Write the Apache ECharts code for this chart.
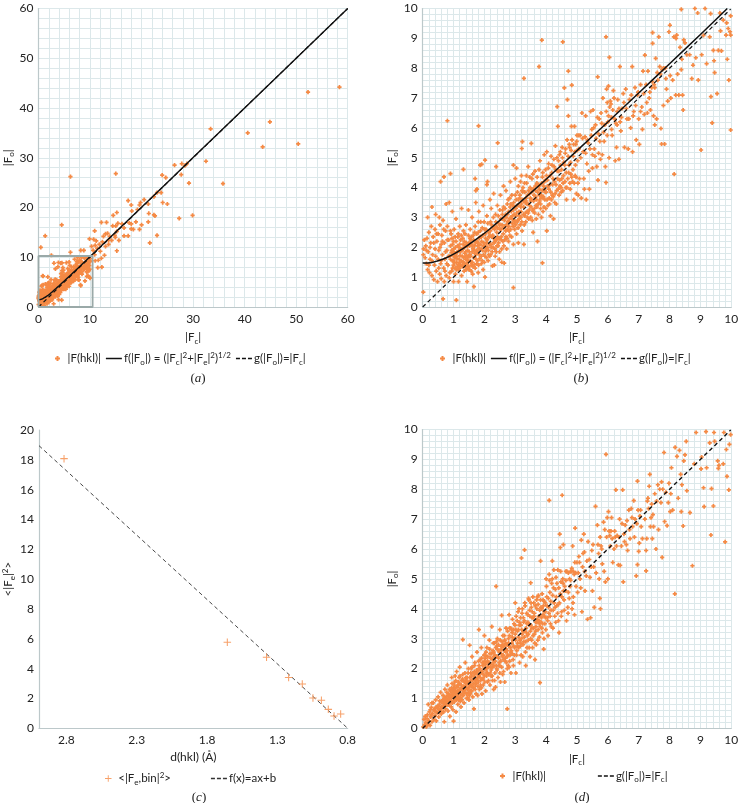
<!DOCTYPE html>
<html><head><meta charset="utf-8">
<style>html,body{margin:0;padding:0;background:#fff}#c{width:742px;height:803px}</style>
<script src="https://cdn.jsdelivr.net/npm/echarts@6/dist/echarts.min.js"></script>
</head><body><div id="c"></div>
<script>
// Points; panel (a) shows the same reflections on a wider scale.
const bLow = [0.02,1.75,0.03,1.95,0.02,0.5,0.05,2.25,0.08,1.65,0.1,2.05,0.12,1.45,0.14,2.3,0.16,1.25,0.18,1.85,0.16,3.0,0.2,2.5,0.22,1.15,0.24,1.6,0.26,2.15,0.28,2.7,0.3,3.35,0.3,1.05,0.32,1.75,0.34,2.35,0.36,0.92,0.38,1.4,0.4,1.95,0.4,2.6,0.42,3.1,0.44,1.2,0.46,2.2,0.48,0.85,0.5,1.6,0.5,2.45,0.52,1.9,0.54,3.0,0.55,1.1,0.56,2.75,0.58,1.45,0.6,2.1,0.6,0.95,0.62,2.4,0.64,1.75,0.66,2.9,0.68,1.3,0.7,2.15,0.7,0.85,0.72,1.6,0.74,2.55,0.76,3.45,0.76,1.05,0.78,1.9,0.8,2.7,0.82,1.4,0.84,2.25,0.86,3.5,0.86,0.98,0.88,1.7,0.9,2.05,0.92,2.45,0.94,1.2,0.96,3.2,0.96,1.55,0.98,1.85,0.66,0.27,0.58,4.2,0.69,4.36,0.9,4.47,0.8,6.24,
1.0,0.85,1.0,1.4,1.0,2.2,1.02,2.6,1.04,1.65,1.06,1.1,1.06,2.0,1.09,0.23,1.08,2.95,1.1,1.5,1.12,1.85,1.14,2.35,1.16,0.85,1.16,1.25,1.18,1.6,1.2,2.1,1.2,2.7,1.22,1.4,1.24,1.95,1.26,3.3,1.26,1.05,1.28,1.7,1.3,2.3,1.3,1.5,1.32,2.55,1.32,4.61,1.34,1.2,1.36,2.0,1.36,1.8,1.38,1.35,1.4,1.6,1.4,2.75,1.42,2.15,1.44,0.85,1.44,1.45,1.46,1.9,1.48,2.4,1.48,3.25,1.5,1.25,1.5,1.7,1.52,2.05,1.54,1.55,1.54,2.6,1.56,2.25,1.58,1.4,1.6,1.85,1.6,3.0,1.62,1.1,1.64,2.4,1.66,1.65,1.66,0.68,1.68,2.05,1.7,1.3,1.7,2.7,1.72,3.5,1.74,1.9,1.76,2.2,1.76,3.95,1.78,1.55,1.8,2.5,1.8,1.15,1.82,3.2,1.84,1.75,1.86,2.1,1.86,4.75,1.88,2.85,1.9,1.45,1.9,2.35,1.91,4.78,1.94,1.9,1.96,3.4,1.96,1.25,1.98,2.15,2.0,2.6,2.02,4.92,2.02,1.0,2.02,1.7,1.81,6.07,1.7,4.3,1.72,3.9],
bMid1 = [2.04,2.3,2.06,1.95,2.08,3.05,2.08,4.1,2.1,4.2,2.12,1.55,2.14,2.5,2.16,2.1,2.18,3.6,2.2,1.75,2.2,2.85,2.22,3.3,2.24,2.35,2.26,1.38,2.28,2.0,2.3,2.65,2.3,3.8,2.32,1.4,2.34,2.2,2.36,3.1,2.38,4.7,2.38,1.85,2.4,2.5,2.43,5.5,2.42,3.4,2.44,2.05,2.46,2.8,2.48,1.6,2.5,2.3,2.5,3.25,2.52,3.75,2.54,2.6,2.56,1.95,2.56,1.5,2.58,2.95,2.6,2.2,2.62,3.35,2.62,4.05,2.64,1.47,2.66,2.7,2.68,3.1,2.7,2.35,2.7,3.9,2.72,1.95,2.74,3.45,2.76,2.85,2.78,2.2,2.78,3.2,2.8,2.55,2.82,3.65,2.84,4.2,2.86,3.0,2.88,2.35,2.9,2.8,2.92,3.4,2.94,0.65,2.94,4.75,2.94,2.1,2.96,3.1,2.98,2.6,3.0,3.75,3.0,4.3,3.04,4.65,3.02,3.05,3.04,2.45,3.06,3.4,3.08,2.9,3.1,2.15,3.1,4.05,3.12,3.2,3.14,3.65,3.16,2.75,3.18,3.0,3.2,4.4,3.2,3.45,3.22,2.55,3.21,5.31,3.23,5.54,3.24,3.85,3.26,3.1,3.28,2.1,3.28,7.66,3.3,4.15,3.32,3.5,3.34,2.85,3.36,4.4,3.38,3.2,3.4,3.75,3.42,4.7,3.44,2.95,3.46,3.4,3.48,4.0,3.52,5.48,3.5,3.0,3.52,3.6,3.54,4.3,3.56,3.25,3.58,2.5,3.6,3.95,3.62,3.3,3.64,4.55,3.66,3.7,3.68,2.95,3.7,4.15,3.72,2.2,3.74,3.45,3.77,8.05,3.78,3.95,3.8,4.9,3.82,3.3,3.84,3.75,3.86,8.94,3.88,1.48,3.88,4.35,3.9,3.2,3.92,4.05,3.94,5.1,3.96,3.6,3.98,4.6],
bMid2 = [4.0,3.85,4.02,2.55,4.02,5.2,4.04,4.25,4.06,3.4,4.08,4.8,4.1,3.65,4.12,4.1,4.14,3.05,4.16,5.05,4.18,4.5,4.2,3.75,4.22,4.3,4.24,2.95,4.26,4.7,4.28,3.5,4.3,5.4,4.32,4.1,4.36,6.71,4.34,3.9,4.36,4.55,4.38,6.05,4.4,4.9,4.42,3.75,4.44,4.25,4.46,5.2,4.48,4.0,4.5,4.6,4.52,5.35,4.54,8.88,4.54,3.9,4.56,4.4,4.59,7.34,4.6,4.75,4.62,5.15,4.64,4.0,4.66,3.6,4.69,6.95,4.68,5.6,4.7,4.3,4.72,7.9,4.72,6.4,4.74,4.75,4.76,5.35,4.78,3.95,4.8,4.45,4.83,7.43,4.82,6.05,4.84,5.6,4.86,4.2,4.88,5.05,4.9,3.6,4.92,6.05,4.94,4.4,4.96,5.45,4.98,3.8,5.0,5.75,5.02,4.9,5.04,3.75,5.06,5.3,5.08,4.3,5.1,5.75,5.12,5.0,5.14,3.65,5.16,6.5,5.18,5.65,5.2,5.2,5.22,4.3,5.24,3.95,5.26,5.7,5.28,6.4,5.3,3.6,5.32,4.8,5.36,5.5,5.4,3.95,5.44,6.55,5.48,5.95,5.5,5.1,5.52,6.6,5.56,5.3,5.6,6.1,5.64,4.7,5.67,7.71,5.68,4.25,5.7,5.8,5.72,6.3,5.76,4.95,5.8,6.15,5.84,7.0,5.88,5.55,5.92,4.7,5.94,9.05,5.94,4.17,5.96,7.3,5.98,6.85,6.0,6.2,6.02,7.4,6.04,5.0,6.05,8.36,6.06,6.7,6.1,6.8,6.12,6.35,6.14,5.75,6.18,7.25,6.2,7.0,6.24,4.9,6.26,6.15,6.28,5.35,6.3,6.55,6.32,6.95,6.36,4.95,6.39,8.05],
bHigh = [6.4,6.2,6.42,5.9,6.46,6.65,6.5,7.15,6.54,5.35,6.58,7.3,6.62,6.3,6.66,5.3,6.7,6.95,6.74,6.0,6.79,8.05,6.8,5.2,6.84,6.55,6.88,7.35,6.92,5.6,6.96,7.1,7.0,6.3,7.02,5.45,7.06,7.45,7.1,6.7,7.12,5.95,7.14,7.9,7.18,6.45,7.2,8.44,7.24,7.45,7.28,6.5,7.3,7.9,7.34,7.0,7.38,6.6,7.42,7.35,7.45,9.19,7.45,8.83,7.48,6.4,7.5,7.45,7.52,6.1,7.55,8.33,7.58,6.3,7.62,7.6,7.65,9.05,7.68,8.05,7.72,5.98,7.74,5.46,7.76,7.95,7.8,6.75,7.84,5.46,7.86,8.0,7.9,7.3,7.94,6.9,7.98,9.22,8.01,9.44,8.02,7.75,8.04,7.0,8.1,7.6,8.14,9.05,8.15,4.45,8.2,7.1,8.21,9.0,8.23,9.11,8.26,7.8,8.3,7.1,8.34,8.7,8.38,9.97,8.38,7.95,8.4,8.3,8.42,7.1,8.44,6.6,8.46,8.95,8.5,8.85,8.56,8.45,8.65,8.45,8.72,7.65,8.76,8.1,8.82,10.0,8.85,8.35,8.91,9.85,8.93,7.6,9.02,5.26,9.04,8.45,9.1,9.1,9.15,10.0,9.2,8.15,9.3,9.05,9.33,9.83,9.34,7.05,9.38,6.17,9.42,8.6,9.44,8.25,9.46,7.85,9.54,7.15,9.58,8.6,9.63,9.85,9.65,9.25,9.68,8.58,9.74,9.61,9.83,9.11,9.85,9.52,9.87,8.3,9.9,9.33,9.92,7.6,9.96,9.22,9.98,9.11,9.98,9.75,9.98,5.93];
const bDense1 = [0.9,1.6,0.93,1.82,0.95,2.3,0.97,1.3,0.99,1.72,1.01,1.95,1.03,1.48,1.05,2.35,1.07,1.78,1.09,1.25,1.11,1.62,1.13,2.05,1.15,1.42,1.17,1.88,1.19,1.3,1.21,1.72,1.23,2.25,1.25,1.55,1.27,1.9,1.29,1.35,1.31,2.1,1.33,1.65,1.35,1.45,1.37,2.45,1.39,1.85,1.41,1.25,1.43,1.72,1.45,2.05,1.47,1.55,1.49,1.35,1.51,1.85,1.53,2.3,1.55,1.7,1.57,1.2,1.59,2.1,1.61,1.5,1.63,1.95,1.65,2.25,1.67,1.42,1.69,1.8,1.71,2.15,1.73,1.6,1.75,2.45,1.77,1.85,1.79,2.05,1.81,1.4,1.83,2.3,1.85,1.62,1.87,2.55,1.89,1.95,1.91,2.2,1.93,1.55,1.95,2.4,1.97,1.75,1.99,2.85,2.01,2.05,2.03,1.85,2.05,2.6,2.07,1.65,2.09,2.25,2.11,2.8,2.13,1.9,2.15,2.35,2.17,1.7,2.19,2.55,2.21,2.1,2.23,2.75,2.25,1.85,2.27,2.4,2.29,3.0,2.31,2.15,2.33,2.6,2.35,1.7,2.37,2.85,2.39,2.25,2.41,2.05,2.43,2.65,2.45,3.05,2.47,2.3,2.49,1.85,2.51,2.6,2.53,2.95,2.55,2.25,2.57,2.75,2.59,3.25,2.61,2.45,2.63,2.05,2.65,2.9,2.67,3.3,2.69,2.55,2.71,2.75,2.73,2.3,2.75,3.1,2.77,3.6,2.79,2.7,2.81,2.95,2.83,3.35,2.85,2.6,2.87,3.2,2.89,3.75,2.91,3.05,2.93,2.7,2.95,3.5],
bDense2 = [2.97,2.9,2.99,3.35,3.01,2.75,3.03,3.6,3.05,3.15,3.07,3.85,3.09,2.65,3.11,3.4,3.13,2.95,3.15,3.75,3.17,4.2,3.19,3.2,3.21,2.85,3.23,3.6,3.25,4.0,3.27,3.35,3.29,2.75,3.31,3.85,3.33,3.15,3.35,3.55,3.37,4.15,3.39,3.0,3.41,3.45,3.43,3.9,3.45,3.25,3.47,4.35,3.49,3.65,3.51,3.35,3.53,3.85,3.55,2.9,3.57,4.45,3.59,3.55,3.61,3.75,3.63,3.15,3.65,4.05,3.67,3.4,3.69,3.6,3.71,4.35,3.73,3.85,3.75,3.1,3.77,4.6,3.79,3.55,3.81,4.1,3.83,3.65,3.85,3.0,3.87,3.9,3.89,4.5,3.91,3.7,3.93,3.35,3.95,4.2,3.97,3.85,3.99,3.3,4.01,4.4,4.03,3.6,4.05,4.05,4.07,4.65,4.09,3.95,4.11,3.45,4.13,4.4,4.15,3.85,4.17,3.6,4.19,4.75,4.21,4.1,4.23,3.7,4.25,4.95,4.27,4.2,4.29,3.8,4.31,4.6,4.33,3.45,4.35,5.0,4.37,4.3,4.39,3.95,4.41,4.55,4.43,5.1,4.45,4.05,4.47,4.75,4.49,3.85,4.51,4.3,4.53,5.0,4.55,4.15,4.57,4.85,4.61,4.2,4.63,5.3,4.65,4.5,4.67,4.0,4.71,5.05,4.73,4.5,4.75,5.45,4.77,4.15,4.79,4.85,4.81,5.25,4.83,4.35,4.87,4.6,4.89,5.45,4.91,4.15,4.93,5.2,4.95,4.75,4.97,4.35,4.99,5.55,5.01,5.25,5.03,4.15,5.05,5.75];
const bDense3 = [0.12,1.9,0.2,1.4,0.24,2.0,0.3,1.55,0.36,2.15,0.42,1.7,0.45,2.45,0.52,1.3,0.56,2.0,0.6,1.55,0.64,2.2,0.68,2.6,0.72,1.2,0.74,1.85,0.78,1.45,0.8,2.25,0.84,1.7,0.88,1.15,0.9,2.55,0.94,1.9,0.97,2.1,1.0,1.55,1.03,1.8,1.05,1.3,1.08,2.2,1.1,1.7,1.13,1.35,1.15,2.45,1.18,2.0,1.2,1.5,1.22,1.85,1.25,2.4,1.28,1.4,1.3,1.95,1.33,1.5,1.35,2.2,1.38,1.7,1.4,2.05,1.43,1.45,1.46,1.65,1.48,1.3,1.5,2.15,1.53,1.75,1.56,1.5,1.58,2.35,1.6,2.05,1.63,1.35,1.66,1.9,1.68,2.5,1.72,1.75,1.75,1.45,1.78,2.15,1.8,2.85,1.83,1.95,1.86,2.35,1.9,1.7,1.93,2.65,1.96,2.05,2.0,1.5,2.03,2.45,2.06,2.15,2.1,2.0,2.14,1.75,2.18,2.4,2.22,2.0,2.26,2.65,2.3,2.3,2.34,1.95,2.38,2.7,2.42,2.35,2.46,2.15,2.5,2.75,2.54,2.35,2.58,3.1,2.62,2.65,2.66,2.25,2.7,3.0,2.74,2.6,2.78,2.85,2.82,2.4,2.86,3.45,2.9,2.95,2.94,3.25,2.98,2.85,3.02,3.3,3.06,2.85,3.1,3.6,3.14,3.05,3.18,3.35,3.22,3.9,3.26,3.55,3.3,3.05,3.34,3.65,3.38,3.45,3.42,3.15,3.46,3.8,3.5,3.55,3.54,3.95,3.58,3.2,3.62,3.6,3.66,3.9,3.7,3.35,3.74,4.05,3.78,3.75,3.82,3.45,3.86,4.15,3.9,3.65,3.94,3.95,3.98,4.25,5.28,5.15,5.34,5.6,5.38,4.55,5.42,5.3,5.46,5.75,5.5,4.65,5.54,6.0,5.58,5.05,5.62,5.65,5.66,6.35,5.7,5.15,5.74,5.55,5.78,6.5,5.82,5.1,5.86,5.85,5.9,6.1,5.95,6.55,5.98,5.75,6.02,6.4,6.08,6.9,6.12,5.95,6.16,6.6,6.22,6.3,6.3,6.1,6.36,6.65,6.44,6.35,6.52,6.85,6.6,6.65,6.68,6.3,6.76,7.1,6.82,6.4,6.9,6.75,6.98,7.2,7.06,6.55,7.16,7.15,7.26,6.85,7.36,7.2,7.44,7.55,7.52,7.35,7.6,7.85,7.7,7.8,7.8,8.0,7.88,7.65];
// Extra reflections above |Fc| or |Fo| = 10.
const aExtra = [58.4,44.2,52.3,43.2,44.9,37.2,33.4,35.8,40.6,35,43.5,32.2,50.4,32.8,32.5,29.3,35.8,24.8,29.9,18.4,27.3,17.8,29.2,24.9,26.4,28.5,27.8,28.8,28.8,28.8,28.4,28.4,27.7,26.6,24,26.5,24.7,26,23.8,23,23,23,22.4,22.2,24.1,21,25,20.7,22.6,18.3,22.4,18.5,23,14.4,21.6,12.9,21.4,18.8,21.3,20.7,20.5,21.6,19.8,21,19.6,20.5,17.4,21.4,18,20.5,18.1,19.3,19.2,19.6,18.9,17.1,18,16.7,18,15.7,17.4,14.3,20,16.5,19.6,15.6,21.3,17.1,6.2,26.2,15,26.8,4.5,16.5,1.3,14.3,0.45,12,2.5,10.4,15.2,19,14.5,18.4,12.2,17,13.2,17,10.9,15.3,9.9,13.7,10.7,13.6,11.2,13.3,11.8,12.6,12.6,14.2,13,14.7,13.4,14.8,13.8,14.2,14.4,16.3,15,16.3,15.4,16.8,15.2,15.2,15.6,13.4,15.2,11.3,14.2,13.4,14.8,14.4,13.6,12.6,12.4,13.1,13,12.2,12,11.2,11.4,11.8,10.9,10.5,11,9.3,11.6,9.4,12.2,9.8,12.3,8,11.5,7.9,12.8,10.4,10.6,11.4,13.6,13.4,14.9,14,16.2,16.7,16.6,15.9,17.6,16.9,18.4,15.6,16.6,14.3,10.3,12.2,11,12.4,3,8.8,4.3,8.8,5.4,8.9,6.2,11,8.2,11.4,8.8,11.4,7,9.6,7.6,9.9,9.6,6.3,10,5.8,8.2,4.3,9.4,7.8,9.8,7.3,4.5,1.4,0.9,6.2];
// Points.
const dLow = [0.02,0.05,0.04,0.3,0.06,0.12,0.08,0.4,0.1,0.2,0.12,0.05,0.14,0.32,0.16,0.14,0.18,0.8,0.2,0.25,0.22,0.55,0.24,0.1,0.26,0.38,0.28,0.7,0.3,0.22,0.32,0.5,0.34,0.85,0.36,0.3,0.38,0.62,0.4,0.42,0.42,0.95,0.44,0.25,0.46,0.72,0.48,0.52,0.5,1.05,0.52,0.38,0.54,0.8,0.56,0.6,0.58,1.2,0.6,0.48,0.62,0.9,0.64,0.7,0.66,1.1,0.68,0.55,0.7,0.22,0.7,0.85,0.72,1.3,0.74,0.65,0.76,1.0,0.78,0.78,0.8,1.45,0.82,0.58,0.84,1.15,0.86,0.9,0.88,0.4,0.9,1.25,0.92,0.72,0.94,1.7,0.96,1.05,0.98,0.62,1.0,1.35,1.0,0.24,1.02,0.88,1.04,1.55,1.06,1.1,1.08,0.55,1.1,1.9,1.12,1.25,1.14,0.8,1.16,1.45,1.18,1.0,1.2,2.05,1.22,1.3,1.24,0.72,1.26,1.6,1.28,1.1,1.3,2.97,1.3,1.8,1.32,1.4,1.34,0.85,1.36,1.2,1.38,2.2,1.4,1.5,1.42,1.0,1.44,1.7,1.46,1.3,1.48,2.0,1.5,0.95,1.52,1.55,1.52,2.78,1.54,1.15,1.56,1.85,1.58,1.4,1.6,2.4,1.62,1.05,1.64,1.65,1.66,0.65,1.68,2.1,1.7,1.3,1.72,1.85,1.74,1.5,1.76,2.55,1.78,1.1,1.8,1.75,1.82,3.3,1.82,2.0,1.84,1.3,1.86,2.3,1.88,1.6,1.9,2.7,1.92,1.15,1.94,1.9,1.96,1.45,1.98,2.15,2.0,3.1,2.0,1.75],
dMid1 = [2.02,2.45,2.04,1.25,2.06,1.95,2.08,2.7,2.1,1.55,2.12,2.2,2.14,1.8,2.16,2.95,2.18,1.45,2.2,2.35,2.22,1.95,2.24,3.4,2.26,1.6,2.28,2.6,2.3,1.3,2.3,2.1,2.32,2.85,2.34,1.85,2.36,1.38,2.38,4.75,2.38,2.4,2.4,2.0,2.42,3.0,2.44,1.7,2.46,2.6,2.48,2.2,2.5,3.3,2.52,1.55,2.54,2.75,2.56,3.78,2.56,2.05,2.58,2.4,2.6,3.1,2.62,1.9,2.64,2.6,2.66,1.55,2.68,2.25,2.7,3.35,2.72,2.8,2.74,0.65,2.74,2.0,2.76,2.45,2.78,3.0,2.8,3.8,2.82,2.25,2.84,2.7,2.86,1.85,2.88,3.3,2.9,2.5,2.92,2.95,2.94,2.1,2.96,3.5,2.98,2.7,3.0,3.15,3.0,4.2,3.02,1.85,3.04,2.45,3.06,3.6,3.08,2.85,3.1,3.3,3.12,4.0,3.14,2.2,3.16,2.75,3.18,3.45,3.2,5.7,3.2,3.0,3.22,3.85,3.24,2.4,3.26,3.25,3.28,2.9,3.3,5.97,3.3,3.6,3.32,4.1,3.34,2.1,3.36,3.2,3.38,2.7,3.4,3.8,3.42,2.95,3.44,4.3,3.46,3.45,3.48,2.4,3.5,3.0,3.5,4.87,3.52,4.05,3.54,3.35,3.56,2.7,3.58,3.7,3.6,4.2,3.62,3.15,3.64,2.3,3.66,3.55,3.68,2.8,3.7,4.0,3.72,4.4,3.74,3.3,3.76,3.75,3.78,3.05,3.8,1.53,3.82,5.6,3.82,4.3,3.84,3.55,3.86,4.0,3.88,3.2,3.9,3.8,3.92,2.65,3.94,4.25,3.96,3.5,3.98,3.9],
dMid2 = [4.0,5.0,4.02,4.4,4.04,3.7,4.06,3.1,4.08,4.05,4.1,7.63,4.1,5.15,4.12,4.55,4.14,3.5,4.16,3.95,4.18,4.85,4.2,5.6,4.22,3.35,4.26,4.2,4.28,3.75,4.3,4.65,4.34,4.1,4.38,5.3,4.4,3.6,4.42,3.2,4.44,6.5,4.46,6.05,4.46,4.5,4.5,3.9,4.52,7.8,4.54,5.0,4.56,6.15,4.58,4.3,4.6,4.75,4.64,5.25,4.66,3.6,4.7,4.05,4.72,4.55,4.76,5.0,4.8,5.25,4.84,4.0,4.86,6.1,4.88,4.4,4.92,3.8,4.94,6.7,4.96,5.2,5.0,5.55,5.02,4.55,5.06,5.75,5.1,5.0,5.14,6.3,5.16,3.9,5.18,5.4,5.22,6.5,5.24,5.9,5.26,4.6,5.3,5.1,5.34,3.65,5.36,6.25,5.4,5.65,5.44,3.7,5.46,5.4,5.5,4.6,5.52,6.15,5.56,4.05,5.6,7.43,5.62,5.2,5.66,6.8,5.7,5.85,5.72,5.0,5.74,4.35,5.76,4.0,5.78,6.1,5.82,5.5,5.86,6.9,5.88,5.25,5.92,4.9,5.94,9.17,5.96,6.4,5.98,7.05,6.0,5.0,6.02,7.25,6.06,6.45,6.1,6.6,6.12,7.05,6.16,5.55,6.2,6.0,6.24,6.4,6.26,7.98,6.3,6.45,6.34,5.47,6.38,7.0,6.4,5.45,6.44,6.1,6.48,7.98,6.5,4.9,6.52,6.5,6.56,6.8,6.6,6.15,6.64,5.95,6.68,7.3,6.72,6.35,6.76,7.35,6.8,6.75,6.84,7.62,6.88,7.0,6.92,5.1,6.94,6.85,6.96,8.27,6.96,5.48,6.98,7.3,7.0,5.92],
dHigh = [7.02,6.2,7.04,7.1,7.08,6.75,7.24,5.27,7.24,5.95,7.26,6.35,7.28,7.6,7.3,7.7,7.34,8.1,7.36,8.5,7.38,6.75,7.42,7.5,7.44,6.35,7.46,7.15,7.48,6.75,7.52,7.85,7.56,6.0,7.58,7.6,7.62,8.15,7.64,6.65,7.68,8.0,7.72,7.55,7.74,8.25,7.76,5.72,7.78,8.0,7.82,9.23,7.84,6.92,7.88,7.9,7.92,6.78,7.96,7.55,7.98,8.2,8.02,7.25,8.04,7.85,8.06,8.72,8.1,7.3,8.17,4.5,8.18,9.4,8.24,9.1,8.28,7.7,8.32,9.3,8.36,8.5,8.38,7.25,8.4,8.15,8.44,6.77,8.46,8.95,8.5,9.15,8.54,9.6,8.56,7.95,8.66,7.22,8.74,5.44,8.8,8.85,8.86,9.9,9.02,8.68,9.04,9.08,9.1,8.05,9.12,7.42,9.2,8.72,9.18,9.93,9.3,9.55,9.34,6.47,9.36,8.02,9.42,7.44,9.44,9.9,9.46,9.6,9.56,8.95,9.58,8.7,9.6,8.8,9.74,8.85,9.76,9.9,9.8,6.24,9.84,9.33,9.86,8.43,9.92,7.98,9.94,9.5,9.98,9.83];
const dDense1 = [0.35,0.62,0.45,0.52,0.5,0.75,0.55,0.92,0.6,0.72,0.65,0.95,0.68,0.82,0.72,1.05,0.75,0.85,0.78,1.2,0.8,0.95,0.83,0.78,0.85,1.05,0.87,1.3,0.9,0.9,0.92,1.12,0.94,1.35,0.96,0.85,0.98,1.2,1.0,1.05,1.02,1.45,1.04,0.95,1.05,1.25,1.07,1.6,1.09,1.05,1.11,1.38,1.13,1.15,1.15,1.55,1.17,0.95,1.19,1.3,1.21,1.75,1.23,1.15,1.25,1.45,1.27,0.95,1.29,1.28,1.31,1.6,1.33,1.2,1.35,1.55,1.37,1.85,1.39,1.3,1.41,1.65,1.43,1.15,1.45,1.5,1.47,1.85,1.49,1.35,1.51,1.1,1.53,1.7,1.55,1.45,1.57,2.0,1.59,1.25,1.61,1.6,1.63,1.85,1.65,1.35,1.67,1.75,1.69,2.2,1.71,1.55,1.73,1.15,1.75,1.95,1.77,1.65,1.79,1.4,1.81,2.25,1.83,1.75,1.85,2.0,1.87,1.45,1.89,1.85,1.91,2.35,1.93,1.65,1.95,2.1,1.97,1.8,1.99,2.45,2.01,1.55,2.03,2.15,2.05,2.55,2.07,1.75,2.09,2.05,2.11,2.4,2.13,1.6,2.15,2.2,2.17,2.65,2.19,1.85,2.21,2.15,2.23,2.5,2.25,1.75,2.27,2.05,2.29,2.85,2.31,2.4,2.33,1.6,2.35,2.25,2.37,2.7,2.39,2.9,2.41,1.95,2.43,2.4,2.45,2.8,2.47,2.1,2.49,2.55,2.51,2.95,2.53,2.25,2.55,2.65,2.57,2.9,2.59,1.8,2.61,2.45,2.63,2.75,2.65,3.1,2.67,2.35,2.69,2.85,2.71,2.2,2.73,2.6,2.75,3.25,2.77,2.1,2.79,2.75,2.81,3.1,2.83,2.45,2.85,3.35,2.87,2.6,2.89,2.85,2.91,3.65,2.93,2.3],
dDense2 = [0.15,0.45,0.25,0.62,0.3,0.85,0.42,0.7,0.58,0.65,0.62,0.55,0.75,0.92,0.88,1.02,0.95,1.5,1.05,1.75,1.1,0.95,1.18,1.7,1.22,0.9,1.3,1.35,1.38,1.55,1.46,1.02,1.55,1.25,1.6,2.05,1.7,1.62,1.8,1.95,1.9,1.35,2.0,2.25,2.1,1.85,2.2,2.05,2.3,2.55,2.4,2.75,2.5,1.85,2.6,2.8,2.7,2.55,2.8,2.05,2.9,3.05,2.95,3.3,2.97,2.45,2.99,3.45,3.01,2.95,3.03,3.75,3.05,2.6,3.07,3.25,3.09,3.9,3.11,2.7,3.13,3.45,3.15,2.95,3.17,3.7,3.19,2.45,3.21,3.3,3.23,4.0,3.25,2.8,3.27,3.55,3.29,3.05,3.31,4.2,3.33,2.55,3.35,3.35,3.37,3.85,3.39,3.1,3.41,3.55,3.43,4.35,3.45,2.7,3.47,3.75,3.49,3.25,3.51,4.2,3.53,2.95,3.55,3.9,3.57,4.4,3.59,3.35,3.61,3.75,3.63,2.85,3.65,4.1,3.67,3.4,3.69,4.3,3.71,3.65,3.73,2.95,3.75,4.45,3.77,3.6,3.79,3.95,3.81,3.4,3.83,4.05,3.85,3.7,3.87,4.5,3.89,3.5,3.91,4.1,3.93,3.0,3.95,3.75,3.97,4.2,3.99,3.3,4.01,4.75,4.03,4.1,4.05,3.6,4.07,4.35,4.09,3.85,4.11,4.95,4.13,3.75,4.15,4.25,4.17,3.4,4.21,4.45,4.23,3.95,4.25,5.3,4.29,4.05,4.31,3.55,4.33,4.4,4.35,4.85,4.37,3.85,4.41,4.7,4.43,4.2,4.47,5.25,4.49,3.75,4.51,4.4,4.55,4.85,4.59,3.95,4.63,4.6,4.67,5.25,4.71,3.85,4.75,4.35,4.79,4.95,4.83,5.35,4.87,4.2,4.91,5.15];
const dDense3 = [0.28,0.45,0.4,0.58,0.48,0.68,0.53,0.62,0.6,0.88,0.66,0.72,0.7,1.0,0.74,0.78,0.78,0.95,0.82,1.1,0.86,0.82,0.9,1.05,0.94,0.92,0.97,1.25,1.0,1.15,1.03,1.32,1.06,1.0,1.09,1.2,1.12,1.42,1.15,1.08,1.18,1.25,1.2,1.5,1.23,1.02,1.26,1.35,1.29,1.65,1.32,1.1,1.35,1.3,1.38,1.42,1.4,1.7,1.43,1.35,1.46,1.55,1.49,1.2,1.52,1.45,1.55,1.6,1.58,1.75,1.61,1.4,1.64,1.5,1.67,1.9,1.7,1.45,1.73,1.65,1.76,1.85,1.8,1.55,1.83,2.1,1.86,1.7,1.9,1.9,1.93,2.2,1.96,1.65,2.0,2.0,2.03,2.35,2.06,1.85,2.1,2.25,2.14,2.05,2.18,2.5,2.22,1.75,2.26,2.3,2.3,2.2,2.34,2.45,2.38,2.1,2.42,2.65,2.46,2.35,2.5,2.1,2.54,2.5,2.58,2.75,2.62,2.3,2.66,2.95,2.7,2.65,2.74,2.4,2.78,2.85,2.82,3.35,2.86,2.55,2.9,3.2,2.94,2.75,2.98,3.0,3.02,3.3,3.06,2.75,3.1,3.05,3.14,3.55,3.18,2.85,3.22,3.15,3.26,3.7,3.3,3.25,3.34,2.9,3.38,3.5,3.42,3.15,3.46,3.95,3.5,3.45,3.54,3.7,3.58,3.1,3.62,3.85,3.66,3.25,3.7,3.55,3.74,4.15,3.78,3.5,3.82,3.75,3.86,3.35,3.9,4.3,3.94,3.9,3.98,3.7,4.2,5.0,4.24,4.7,4.32,5.05,4.4,4.15,4.48,4.9,4.56,4.6,4.64,4.95,4.72,5.2,4.78,4.75,4.82,5.25,4.88,5.25,4.93,5.55,4.97,4.75,5.04,5.2,5.08,5.55,5.12,4.7,5.2,5.85,5.25,5.25,5.32,5.6,5.42,5.05,5.48,5.95,5.54,5.4,5.68,6.15,5.75,6.4,5.8,6.0,5.9,6.65,6.04,6.6,6.08,6.1,6.14,6.35,6.22,6.6,6.28,6.1,6.36,6.4,6.46,6.85,6.54,6.25,6.62,6.95,6.7,6.65,6.78,7.05,6.86,6.4,7.06,7.3,7.12,6.35,7.2,7.0,7.32,7.35,7.4,7.05];
// Curves and line endpoints.
const fX = [0,0.25,0.5,0.75,1,1.25,1.5,1.75,2,2.25,2.5,3,3.5,4,5,6,7,8,9,9.87,20,30,40,60];
const fY = [1.47,1.48,1.55,1.64,1.77,1.92,2.1,2.28,2.47,2.68,2.9,3.37,3.82,4.28,5.24,6.2,7.17,8.15,9.13,10,20.05,30.03,40,60];
const gX = [0,60], gY = [0,60];
const gBX = [0,9.98], gBY = [0,9.98];
const cD = [2.817,1.656,1.377,1.22,1.123,1.047,0.987,0.938,0.897,0.85];
const cF = [18.08,5.77,4.76,3.4,2.97,2.03,1.88,1.27,0.83,0.96];
const cLineX = [2.995,0.8], cLineY = [18.95,0];
const boxX = [0,0,10.5,10.5,0], boxY = [0,10.25,10.25,0,0];

const pairs = (...fl) => { const o=[]; fl.forEach(a=>{for(let i=0;i<a.length;i+=2)o.push([a[i],a[i+1]]);}); return o; };
const zip = (x,y)=>x.map((v,i)=>[v,y[i]]);
const bPts = pairs(bLow,bMid1,bMid2,bHigh,bDense1,bDense2,bDense3), aPts = bPts.concat(pairs(aExtra)), dPts = pairs(dLow,dMid1,dMid2,dHigh,dDense1,dDense2,dDense3);

const FONT='Lato, "Open Sans", sans-serif', OR='#f58a45', GRID='#dce8ea', AX='#bcc8ca', TXT='#222';
const blob='path://M3,0H7V3H10V7H7V10H3V7H0V3H3Z', plus='path://M4.3,0H5.7V4.3H10V5.7H5.7V10H4.3V5.7H0V4.3H4.3Z';
const solidIcon='path://M0,0H16V1.5H0Z', dashIcon='path://M0,0H4V1.5H0Z M6,0H10V1.5H6Z M12,0H16V1.5H12Z';
const rich={sub:{fontSize:8,fontFamily:FONT,color:TXT,verticalAlign:'bottom',lineHeight:9},sup:{fontSize:8,fontFamily:FONT,color:TXT,verticalAlign:'top',lineHeight:9},t:{fontSize:11.5,fontFamily:FONT,color:TXT,lineHeight:15}};
const FO='{t||F}{sub|o}{t||}', FC='{t||F}{sub|c}{t||}', FE='{t||F}{sub|e}';
const nF='|F(hkl)|', nf='f(|Fo|) = (|Fc|²+|Fe|²)^1/2', ng='g(|Fo|)=|Fc|', nc1='<|Fe,bin|²>', nc2='f(x)=ax+b';
const fmt=n=>({
 [nF]:'{t||F(hkl)|}',
 [nf]:'{t|f(}'+FO+'{t|) = (}'+FC+'{sup|2}{t|+}'+FE+'{t||}{sup|2}{t|)}{sup|1/2}',
 [ng]:'{t|g(}'+FO+'{t|)=}'+FC,
 [nc1]:'{t|<|F}{sub|e}{t|,bin|}{sup|2}{t|>}',
 [nc2]:'{t|f(x)=ax+b}'}[n]);
const G=[{left:38.5,top:8.5,width:309.2,height:298.5},{left:422.7,top:8.5,width:308.6,height:298.5},{left:38.5,top:430,width:309.2,height:298.3},{left:422.7,top:429.5,width:308.6,height:298.8}];
const axis=(dim,idx,max,iv,name,gap,extra)=>Object.assign({type:'value',gridIndex:idx,min:0,max,interval:iv,minorTick:{show:false,splitNumber:5},
 minorSplitLine:{show:true,lineStyle:{color:GRID,width:1}},splitLine:{show:true,lineStyle:{color:GRID,width:1}},
 axisLine:{show:true,onZero:false,lineStyle:{color:AX,width:1.2}},axisTick:{show:false},axisLabel:{color:TXT,fontFamily:FONT,fontSize:12,margin:dim==='x'?6:5},
 name,nameLocation:'middle',nameGap:gap,nameRotate:dim==='y'?90:0,nameTextStyle:{rich,fontFamily:FONT,fontSize:11.5,color:TXT}},extra||{});
const pts=(name,x,data)=>({name,type:'scatter',xAxisIndex:x,yAxisIndex:x,data,symbol:blob,symbolSize:4.2,itemStyle:{color:OR,opacity:1},z:2,silent:true});
const ln=(name,x,data,w,dash,z,c)=>({name,type:'line',xAxisIndex:x,yAxisIndex:x,data,showSymbol:false,symbol:'none',lineStyle:{color:c||'#111',width:w,type:dash?[4,3]:'solid'},itemStyle:{color:c||'#111'},z:z,silent:true});
const leg=(left,top,data,gap,h)=>({left,top,data,orient:'horizontal',itemWidth:16,itemHeight:h||5,itemGap:gap,formatter:fmt,textStyle:{rich,fontFamily:FONT,fontSize:11.5,color:TXT,padding:[0,0,0,-3]},selectedMode:false});
const cap=(x,y,l)=>({text:'{p|(}{i|'+l+'}{p|)}',left:x,top:y,textAlign:'center',textStyle:{fontWeight:'normal',rich:{p:{fontFamily:'"Liberation Serif",serif',fontWeight:'normal',fontSize:13,color:'#222'},i:{fontFamily:'"Liberation Serif",serif',fontStyle:'italic',fontWeight:'normal',fontSize:13,color:'#222'}}}});
const yN=FO, xN=FC;
const lS={name:nf,icon:solidIcon}, lD={name:ng,icon:dashIcon};
const option={animation:false,backgroundColor:'#fff',grid:G,
 title:[cap(193,367,'a'),cap(576,367,'b'),cap(194,786,'c'),cap(577,786,'d')],
 legend:[leg(50,346,[nF,lS,lD],5),leg(435,346,[nF,lS,lD],5),leg(100,766,[{name:nc1,icon:plus},{name:nc2,icon:dashIcon}],40,6.5),leg(495,765,[nF,lD],52)],
 xAxis:[axis('x',0,60,10,xN,23),axis('x',1,10,1,xN,23),
  axis('x',2,2.995,0.5,'d(hkl) (Å)',23,{min:0.8,inverse:true,minorSplitLine:{show:false},splitLine:{show:false},axisLabel:{color:TXT,fontFamily:FONT,fontSize:12,margin:6,showMaxLabel:false,formatter:v=>v.toFixed(1)},nameTextStyle:{fontFamily:FONT,fontSize:12,color:TXT}}),
  axis('x',3,10,1,xN,23)],
 yAxis:[axis('y',0,60,10,yN,22),axis('y',1,10,1,yN,16),
  axis('y',2,20,2,'{t|<|F}{sub|e}{t||}{sup|2}{t|>}',23,{minorSplitLine:{show:false},splitLine:{show:false}}),
  axis('y',3,10,1,yN,16)],
 series:[
  pts(nF,0,aPts),ln(ng,0,zip(gX,gY),1.2,true,3),Object.assign(ln(nf,0,zip(fX,fY),1.4,false,4),{smooth:0.3}),
  {name:'box',type:'line',xAxisIndex:0,yAxisIndex:0,data:zip(boxX,boxY),showSymbol:false,symbol:'none',clip:false,lineStyle:{color:'#9aa9a8',width:1.8},z:5,silent:true},
  pts(nF,1,bPts),ln(ng,1,zip(gBX,gBY),1.2,true,3),Object.assign(ln(nf,1,zip(fX.slice(0,20),fY.slice(0,20)),1.5,false,4),{smooth:0.3}),
  {name:nc1,type:'scatter',xAxisIndex:2,yAxisIndex:2,data:zip(cD,cF),symbol:plus,symbolSize:7.5,itemStyle:{color:OR},z:3,silent:true},
  ln(nc2,2,zip(cLineX,cLineY),0.9,true,2,'#333'),
  pts(nF,3,dPts),ln(ng,3,zip(gBX,gBY),1.4,true,4)
 ]};
echarts.init(document.getElementById('c'),null,{renderer:'canvas'}).setOption(option);
</script></body></html>
